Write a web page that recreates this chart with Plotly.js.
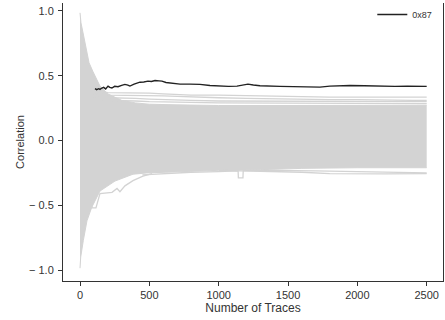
<!DOCTYPE html>
<html><head><meta charset="utf-8">
<script src="https://cdn.plot.ly/plotly-3.0.1.min.js"></script>
<style>html,body{margin:0;padding:0;background:#fff;}#chart{width:445px;height:320px;}</style>
</head><body><div id="chart"></div>
<script>
// ---- data ----
const correctKey = "0x87";
const correctTraces = [108, 120, 135, 144, 158, 170, 185, 202, 215, 230, 250, 274, 300, 324, 345, 360, 390, 432, 460, 490, 515, 541, 570, 591, 620, 649, 690, 721, 793, 865, 937, 1009, 1070, 1132, 1170, 1211, 1250, 1298, 1442, 1586, 1730, 1802, 1947, 2050, 2127, 2271, 2360, 2451, 2500];
const correctCorr   = [0.40, 0.392, 0.40, 0.395, 0.405, 0.41, 0.398, 0.42, 0.41, 0.405, 0.418, 0.415, 0.425, 0.433, 0.428, 0.42, 0.435, 0.45, 0.452, 0.458, 0.455, 0.463, 0.46, 0.458, 0.448, 0.443, 0.44, 0.435, 0.435, 0.433, 0.425, 0.42, 0.418, 0.42, 0.43, 0.435, 0.428, 0.422, 0.418, 0.415, 0.412, 0.42, 0.425, 0.422, 0.42, 0.418, 0.42, 0.418, 0.418];

// envelope of the 255 wrong-key guesses (dense grey band)
const bandUpperTraces = [0, 7, 22, 40, 65, 94, 120, 144, 200, 300, 400, 500, 700, 1000, 1500, 2000, 2500];
const bandUpperCorr   = [0.985, 0.908, 0.83, 0.72, 0.60, 0.53, 0.47, 0.42, 0.36, 0.31, 0.29, 0.28, 0.275, 0.27, 0.27, 0.272, 0.272];
const bandLowerTraces = [0, 5, 24, 50, 84, 144, 252, 382, 483, 700, 1000, 1300, 1600, 2000, 2500];
const bandLowerCorr   = [-0.985, -0.9, -0.77, -0.62, -0.517, -0.39, -0.313, -0.26, -0.25, -0.24, -0.23, -0.225, -0.215, -0.21, -0.21];

// individually visible wrong-key lines
const lineTraces = [100, 150, 200, 300, 400, 500, 600, 700, 800, 1000, 1200, 1400, 1600, 1800, 2000, 2200, 2400, 2500];
const wrongA = [0.40, 0.38, 0.37, 0.37, 0.37, 0.365, 0.36, 0.355, 0.35, 0.35, 0.345, 0.34, 0.335, 0.335, 0.335, 0.335, 0.335, 0.335];
const wrongB = [0.38, 0.36, 0.35, 0.35, 0.345, 0.345, 0.345, 0.34, 0.335, 0.33, 0.325, 0.32, 0.32, 0.315, 0.315, 0.31, 0.31, 0.31];
const wrongC = [0.36, 0.34, 0.33, 0.33, 0.325, 0.32, 0.315, 0.315, 0.31, 0.305, 0.305, 0.30, 0.30, 0.30, 0.30, 0.30, 0.30, 0.30];
const wrongD = [0.34, 0.32, 0.31, 0.31, 0.305, 0.30, 0.30, 0.295, 0.295, 0.29, 0.29, 0.29, 0.285, 0.285, 0.285, 0.285, 0.285, 0.285];

const notchTraces = [80, 87, 115, 144, 231, 267, 288, 324, 382, 454, 520];
const notchCorr   = [-0.46, -0.52, -0.52, -0.41, -0.40, -0.37, -0.395, -0.35, -0.31, -0.275, -0.255];
const spikeTraces = [450, 600, 800, 1000, 1140, 1142, 1175, 1177, 1400, 1700, 2000, 2300, 2500];
const spikeCorr   = [-0.265, -0.255, -0.245, -0.24, -0.235, -0.288, -0.288, -0.232, -0.23, -0.235, -0.24, -0.245, -0.25];
const lowTraces = [1000, 1300, 1600, 1800, 2000, 2200, 2500];
const lowCorr   = [-0.23, -0.235, -0.245, -0.255, -0.257, -0.257, -0.255];

const xTicks = [0, 500, 1000, 1500, 2000, 2500];
const yTicks = [-1.0, -0.5, 0.0, 0.5, 1.0];
const yTickText = ["\u2212 1.0", "\u2212 0.5", "0.0", "0.5", "1.0"];

// ---- chart ----
const grey = "#d3d3d3";
const font = "Liberation Sans, Arial, sans-serif";
const greyLine = (x, y) => ({x: x, y: y, mode: "lines", line: {color: grey, width: 1.3}, showlegend: false, hoverinfo: "skip"});

const traces = [
  {x: bandUpperTraces, y: bandUpperCorr, mode: "lines", line: {color: grey, width: 1}, showlegend: false, hoverinfo: "skip"},
  {x: bandLowerTraces, y: bandLowerCorr, mode: "lines", line: {color: grey, width: 1}, fill: "tonexty", fillcolor: grey, showlegend: false, hoverinfo: "skip"},
  greyLine(lineTraces, wrongA),
  greyLine(lineTraces, wrongB),
  greyLine(lineTraces, wrongC),
  greyLine(lineTraces, wrongD),
  greyLine(notchTraces, notchCorr),
  greyLine(spikeTraces, spikeCorr),
  greyLine(lowTraces, lowCorr),
  {x: correctTraces, y: correctCorr, mode: "lines", name: correctKey, line: {color: "#222", width: 1.4}}
];

const axisCommon = {
  showgrid: false, zeroline: false, showline: true, linecolor: "#333", linewidth: 1,
  ticks: "outside", ticklen: 4, tickcolor: "#333", tickwidth: 1,
  tickfont: {family: font, size: 11, color: "#333"}
};

const layout = {
  width: 445, height: 320,
  margin: {l: 63, r: 2, t: 0, b: 39},
  paper_bgcolor: "#fff", plot_bgcolor: "#fff",
  showlegend: true,
  legend: {x: 0.985, xanchor: "right", y: 1.012, yanchor: "top", bgcolor: "rgba(0,0,0,0)",
           font: {family: font, size: 9, color: "#333"}},
  xaxis: Object.assign({}, axisCommon, {
    range: [-122.6, 2617.5], tickvals: xTicks, mirror: false,
    title: {text: "Number of Traces", font: {family: font, size: 12, color: "#333"}, standoff: 2}
  }),
  yaxis: Object.assign({}, axisCommon, {
    range: [-1.084, 1.061], tickvals: yTicks, ticktext: yTickText, mirror: true,
    ticklabelstandoff: 2,
    title: {text: "Correlation", font: {family: font, size: 11, color: "#333"}, standoff: 2}
  })
};

Plotly.newPlot("chart", traces, layout, {staticPlot: true});
</script></body></html>
